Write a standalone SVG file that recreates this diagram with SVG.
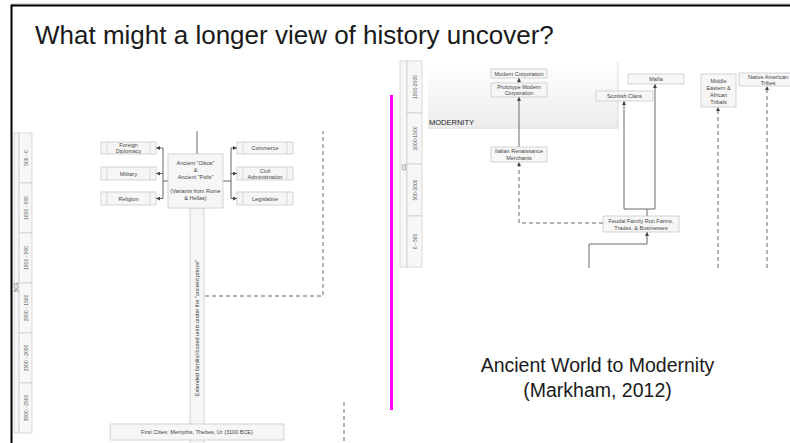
<svg xmlns="http://www.w3.org/2000/svg" width="790" height="443" viewBox="0 0 790 443">
<defs>
<style>
.box{fill:#f6f6f6;stroke:#c2c2c2;stroke-width:0.7}
.inner{stroke:#c2c2c2;stroke-width:0.6}
.t{font-family:"Liberation Sans",Arial,sans-serif;font-size:5.5px;fill:#444;text-anchor:middle}
.tl{font-family:"Liberation Sans",Arial,sans-serif;font-size:5px;fill:#555;text-anchor:middle}
.ln{fill:none;stroke:#555;stroke-width:0.9}
.lg{fill:none;stroke:#6a6a6a;stroke-width:1}
.dash{fill:none;stroke:#555;stroke-width:0.9;stroke-dasharray:4 3}
.seg{fill:#f7f7f7;stroke:#c8c8c8;stroke-width:0.7}
.big{font-family:"Liberation Sans",Arial,sans-serif;fill:#1a1a1a}
</style>
<marker id="ah" viewBox="0 0 6 6" refX="6" refY="3" markerWidth="4" markerHeight="4" markerUnits="userSpaceOnUse" orient="auto">
<path d="M0,0 L6,3 L0,6 z" fill="#444"/>
</marker>
<linearGradient id="band" x1="0" y1="0" x2="0" y2="1">
<stop offset="0" stop-color="#ffffff"/>
<stop offset="1" stop-color="#ececec"/>
</linearGradient>
</defs>
<rect x="0" y="0" width="790" height="443" fill="#ffffff"/>
<!-- frame -->
<line x1="11.5" y1="4" x2="790" y2="4" stroke="#bbb" stroke-width="1"/>
<line x1="11.5" y1="5.5" x2="790" y2="5.5" stroke="#000" stroke-width="2"/>
<line x1="11.5" y1="4.5" x2="11.5" y2="443" stroke="#000" stroke-width="2"/>
<text class="big" x="35" y="44" font-size="26">What might a longer view of history uncover?</text>

<!-- left timeline -->
<g id="bce-timeline">
<rect class="seg" x="14" y="133" width="5" height="300"/>
<rect class="seg" x="19" y="133" width="13" height="50"/>
<rect class="seg" x="19" y="183" width="13" height="50"/>
<rect class="seg" x="19" y="233" width="13" height="50"/>
<rect class="seg" x="19" y="283" width="13" height="50"/>
<rect class="seg" x="19" y="333" width="13" height="50"/>
<rect class="seg" x="19" y="383" width="13" height="50"/>
<text class="tl" transform="translate(18,287) rotate(-90)" font-size="4.5">BCE</text>
<text class="tl" transform="translate(27.5,158) rotate(-90)">500 - 0</text>
<text class="tl" transform="translate(27.5,208) rotate(-90)">1000 - 500</text>
<text class="tl" transform="translate(27.5,258) rotate(-90)">1500 - 500</text>
<text class="tl" transform="translate(27.5,308) rotate(-90)">2000 - 1500</text>
<text class="tl" transform="translate(27.5,358) rotate(-90)">2500 - 2000</text>
<text class="tl" transform="translate(27.5,408) rotate(-90)">3000 - 2500</text>
</g>

<!-- left connectors -->
<g id="connectors-left">
<line class="ln" x1="197" y1="131" x2="197" y2="154"/>
<path class="ln" d="M168,181 H163"/>
<path class="ln" d="M163,148 V198.5"/>
<path class="ln" d="M163,148 H156" marker-end="url(#ah)"/>
<path class="ln" d="M163,173.5 H156" marker-end="url(#ah)"/>
<path class="ln" d="M163,198.5 H156" marker-end="url(#ah)"/>
<path class="ln" d="M223,181 H231"/>
<path class="ln" d="M231,148 V198.5"/>
<path class="ln" d="M231,148 H237" marker-end="url(#ah)"/>
<path class="ln" d="M231,173.5 H237" marker-end="url(#ah)"/>
<path class="ln" d="M231,198.5 H237" marker-end="url(#ah)"/>
<path class="dash" d="M205,296 H323 V131"/>
<path class="dash" d="M344,402 V443"/>
</g>

<g id="extended-familial">
<rect class="box" x="190" y="208" width="14" height="240"/>
<text class="t" font-size="5.2" transform="translate(199,328) rotate(-90)">Extended familial-based units under the "ancient prince"</text>
</g>

<g id="oikos-polis">
<rect class="box" x="168" y="154" width="55" height="54"/>
<text class="t" x="195.5" y="165">Ancient "Oikos"</text>
<text class="t" x="195.5" y="172">&amp;</text>
<text class="t" x="195.5" y="179">Ancient "Polis"</text>
<text class="t" x="195.5" y="193" font-size="5.2">(Variants from Rome</text>
<text class="t" x="195.5" y="200" font-size="5.2">&amp; Hellas)</text>
</g>

<g id="foreign-diplomacy">
<rect class="box" x="101" y="142" width="55" height="12"/>
<line class="inner" x1="107" y1="142" x2="107" y2="154"/><line class="inner" x1="150" y1="142" x2="150" y2="154"/>
<text class="t" x="128.5" y="147.2">Foreign</text>
<text class="t" x="128.5" y="153">Diplomacy</text>
</g>
<g id="military">
<rect class="box" x="101" y="167" width="55" height="13"/>
<line class="inner" x1="107" y1="167" x2="107" y2="180"/><line class="inner" x1="150" y1="167" x2="150" y2="180"/>
<text class="t" x="128.5" y="175.5">Military</text>
</g>
<g id="religion">
<rect class="box" x="101" y="192" width="55" height="13"/>
<line class="inner" x1="107" y1="192" x2="107" y2="205"/><line class="inner" x1="150" y1="192" x2="150" y2="205"/>
<text class="t" x="128.5" y="200.5">Religion</text>
</g>
<g id="commerce">
<rect class="box" x="237" y="142" width="56" height="12"/>
<line class="inner" x1="243" y1="142" x2="243" y2="154"/><line class="inner" x1="287" y1="142" x2="287" y2="154"/>
<text class="t" x="265" y="150">Commerce</text>
</g>
<g id="civil-administration">
<rect class="box" x="237" y="167" width="56" height="13"/>
<line class="inner" x1="243" y1="167" x2="243" y2="180"/><line class="inner" x1="287" y1="167" x2="287" y2="180"/>
<text class="t" x="265" y="172.5">Civil</text>
<text class="t" x="265" y="178.5">Administration</text>
</g>
<g id="legislative">
<rect class="box" x="237" y="192" width="56" height="13"/>
<line class="inner" x1="243" y1="192" x2="243" y2="205"/><line class="inner" x1="287" y1="192" x2="287" y2="205"/>
<text class="t" x="265" y="200.5">Legislative</text>
</g>

<g id="first-cities">
<rect class="box" x="110" y="424" width="174" height="16"/>
<text class="t" x="197" y="434" font-size="5.7">First Cities: Memphis, Thebes, Ur (3100 BCE)</text>
</g>

<!-- magenta divider -->
<line x1="391.5" y1="95" x2="391.5" y2="410" stroke="#ff00ff" stroke-width="3"/>

<!-- right panel -->
<g id="modernity-band">
<rect x="428" y="62" width="190" height="66" fill="url(#band)"/>
<line x1="428" y1="128.3" x2="618" y2="128.3" stroke="#dcdcdc" stroke-width="0.8"/>
<line x1="618" y1="62" x2="618" y2="128.5" stroke="#d6d6d6" stroke-width="0.8"/>
<text class="big" x="429" y="125" font-size="7.5" fill="#333">MODERNITY</text>
</g>

<g id="ce-timeline">
<rect class="seg" x="400" y="61" width="7" height="206"/>
<rect class="seg" x="407" y="61" width="15" height="52"/>
<rect class="seg" x="407" y="113" width="15" height="51"/>
<rect class="seg" x="407" y="164" width="15" height="52"/>
<rect class="seg" x="407" y="216" width="15" height="51"/>
<text class="tl" transform="translate(405.5,167) rotate(-90)" font-size="4.5">CE</text>
<text class="tl" transform="translate(416.5,87) rotate(-90)">1500-2000</text>
<text class="tl" transform="translate(416.5,138.5) rotate(-90)">1000-1500</text>
<text class="tl" transform="translate(416.5,190) rotate(-90)">500-1000</text>
<text class="tl" transform="translate(416.5,241.5) rotate(-90)">0 - 500</text>
</g>

<g id="connectors-right">
<path class="ln" d="M519,83 V78" marker-end="url(#ah)"/>
<path class="lg" d="M519,147 V97" marker-end="url(#ah)"/>
<path class="dash" d="M603,223 H519 V162" marker-end="url(#ah)"/>
<path class="lg" d="M589,268 V244 H647 V232" marker-end="url(#ah)"/>
<path class="lg" d="M647,216 V209"/>
<path class="lg" d="M624,209 H655"/>
<path class="lg" d="M624,209 V101" marker-end="url(#ah)"/>
<path class="lg" d="M655,209 V84" marker-end="url(#ah)"/>
<path class="dash" d="M718,268 V107" marker-end="url(#ah)"/>
<path class="dash" d="M767,268 V86" marker-end="url(#ah)"/>
</g>

<g id="modern-corporation">
<rect class="box" x="491" y="69" width="56" height="9"/>
<text class="t" x="519" y="75.5">Modern Corporation</text>
</g>
<g id="prototype-modern-corporation">
<rect class="box" x="491" y="83" width="56" height="14"/>
<text class="t" x="519" y="88.5">Prototype Modern</text>
<text class="t" x="519" y="95">Corporation</text>
</g>
<g id="italian-renaissance-merchants">
<rect class="box" x="491" y="147" width="56" height="15"/>
<text class="t" x="519" y="153">Italian Renaissance</text>
<text class="t" x="519" y="160">Merchants</text>
</g>
<g id="feudal-family">
<rect class="box" x="603" y="216" width="76" height="16"/>
<text class="t" x="641" y="222.5">Feudal Family Run Farms,</text>
<text class="t" x="641" y="229.5">Trades, &amp; Businesses</text>
</g>
<g id="scottish-clans">
<rect class="box" x="596" y="91" width="57" height="10"/>
<text class="t" x="624.5" y="97.8">Scottish Clans</text>
</g>
<g id="mafia">
<rect class="box" x="628" y="74" width="56" height="10"/>
<text class="t" x="656" y="80.8">Mafia</text>
</g>
<g id="middle-eastern-african-tribals">
<rect class="box" x="701" y="74" width="35" height="33"/>
<text class="t" x="718.5" y="82.5">Middle</text>
<text class="t" x="718.5" y="89.5">Eastern &amp;</text>
<text class="t" x="718.5" y="96.5">African</text>
<text class="t" x="718.5" y="103.5">Tribals</text>
</g>
<g id="native-american-tribes">
<rect class="box" x="739" y="73" width="58" height="13"/>
<text class="t" x="768" y="78.5">Native American</text>
<text class="t" x="768" y="84.5">Tribes</text>
</g>

<g id="caption">
<text class="big" x="597.5" y="372" font-size="19.5" text-anchor="middle" fill="#222">Ancient World to Modernity</text>
<text class="big" x="597.5" y="397" font-size="19.5" text-anchor="middle" fill="#222">(Markham, 2012)</text>
</g>
</svg>
